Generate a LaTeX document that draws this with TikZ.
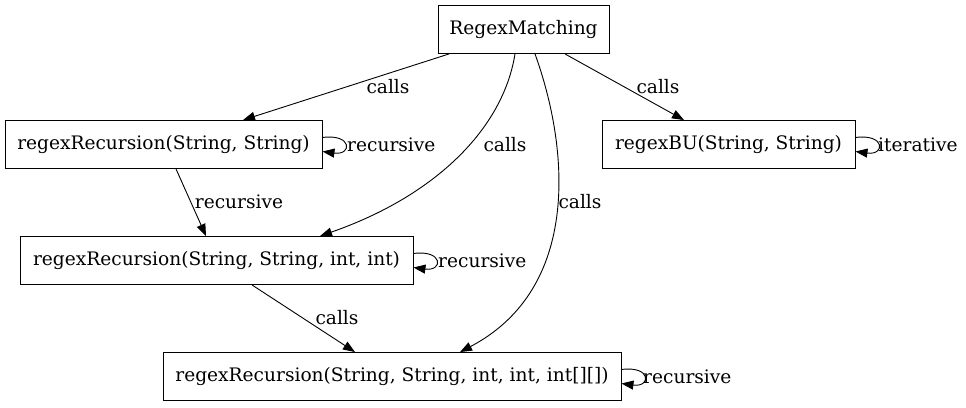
\documentclass[tikz,border=0pt]{standalone}
\usepackage{fontspec}
\setmainfont{DejaVu Serif}
\usetikzlibrary{arrows.meta}
\begin{document}
\begin{tikzpicture}[x=1pt,y=-1pt,
  every node/.style={font=\fontsize{18.6}{21}\selectfont},
  box/.style={draw,line width=0.9pt,minimum height=48pt,inner sep=0pt},
  lbl/.style={inner sep=0pt},
  arr/.style={line width=0.9pt,-{Triangle[length=12pt,width=9pt]}}]
\useasboundingbox (0,0) rectangle (966,407);
\node[box,minimum width=171pt] (RM) at (523.5,29.5) {RegexMatching};
\node[box,minimum width=317pt] (R2) at (163.5,144.5) {regexRecursion(String, String)};
\node[box,minimum width=253pt] (BU) at (728.5,144.5) {regexBU(String, String)};
\node[box,minimum width=393pt] (R4) at (216.5,260.5) {regexRecursion(String, String, int, int)};
\node[box,minimum width=458pt] (R5) at (392,376.5) {regexRecursion(String, String, int, int, int[][])};
% edges
\draw[arr] ([xshift=-74.5pt]RM.south) -- ([xshift=79.5pt]R2.north);
\draw[arr] ([xshift=-8.5pt]RM.south) .. controls +(-12,75) and +(115,-40) .. ([xshift=103.5pt]R4.north);
\draw[arr] ([xshift=11.5pt]RM.south) .. controls +(35,97) and +(120,-63) .. ([xshift=68pt]R5.north);
\draw[arr] ([xshift=41.5pt]RM.south) -- ([xshift=-44.5pt]BU.north);
\draw[arr] ([xshift=12.5pt]R2.south) -- ([xshift=-10.5pt]R4.north);
\draw[arr] ([xshift=35.5pt]R4.south) -- ([xshift=-37pt]R5.north);
% self loops
\draw[arr] ([yshift=7pt]R2.east) .. controls +(30,-4) and +(30,4) .. ([yshift=-7pt]R2.east);
\draw[arr] ([yshift=7pt]BU.east) .. controls +(30,-4) and +(30,4) .. ([yshift=-7pt]BU.east);
\draw[arr] ([yshift=7pt]R4.east) .. controls +(30,-4) and +(30,4) .. ([yshift=-7pt]R4.east);
\draw[arr] ([yshift=7pt]R5.east) .. controls +(30,-4) and +(30,4) .. ([yshift=-7pt]R5.east);
% labels
\node[lbl] (l1) at (388,87) {calls};
\node[lbl] (l2) at (505,145) {calls};
\node[lbl] (l3) at (580,202) {calls};
\node[lbl] (l4) at (658,87) {calls};
\node[lbl] (l5) at (239,202) {recursive};
\node[lbl] (l6) at (337,318) {calls};
\node[lbl,anchor=west] (l7) at (347,144.5) {recursive};
\node[lbl,anchor=west] (l8) at (878,144.5) {iterative};
\node[lbl,anchor=west] (l9) at (438,260.5) {recursive};
\node[lbl,anchor=west] (l10) at (643,376.5) {recursive};
\end{tikzpicture}
\end{document}
